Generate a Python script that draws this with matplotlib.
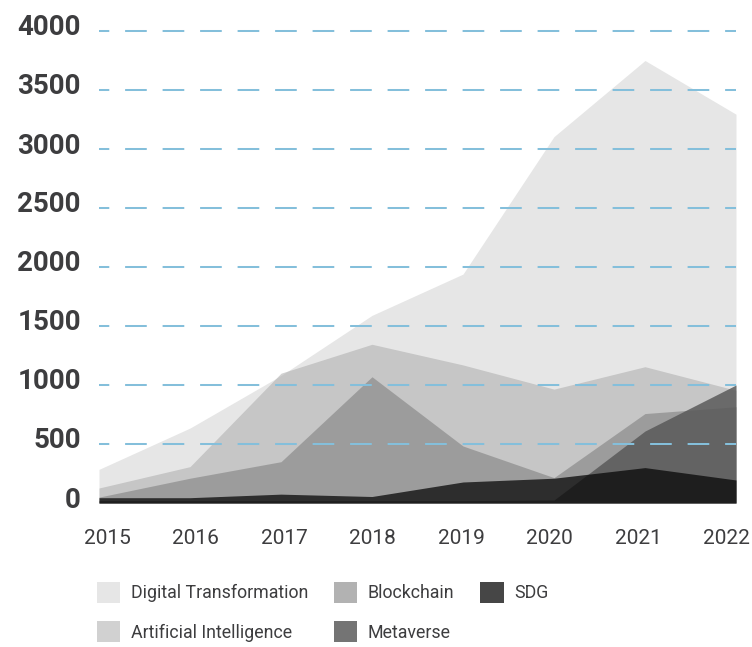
import matplotlib
matplotlib.use("Agg")
import matplotlib.pyplot as plt
from matplotlib.transforms import ScaledTranslation

# --- Data (publications per year) ---
years = [2015, 2016, 2017, 2018, 2019, 2020, 2021, 2022]

digital_transformation = [285, 635, 1080, 1590, 1940, 3105, 3750, 3295]
artificial_intelligence = [127, 308, 1100, 1345, 1170, 965, 1155, 955]
blockchain = [50, 210, 350, 1070, 483, 215, 758, 816]
metaverse = [20, 20, 20, 20, 20, 25, 610, 1000]
sdg = [45, 45, 75, 55, 178, 210, 300, 195]

series_names = ["Digital Transformation", "Artificial Intelligence",
                "Blockchain", "Metaverse", "SDG"]
series_values = [digital_transformation, artificial_intelligence,
                 blockchain, metaverse, sdg]

y_ticks = [0, 500, 1000, 1500, 2000, 2500, 3000, 3500, 4000]
grid_levels = y_ticks[1:]

# --- Style ---
COLORS = ["#e6e6e6", "#adadad", "#838383", "#585858", "#060606"]
ALPHAS = [1.0, 0.56, 0.62, 0.83, 0.74]
GRID_COLOR = "#84bfdb"
TEXT_COLOR = "#3d3d3f"

plt.rcParams["lines.scale_dashes"] = False

fig = plt.figure(figsize=(7.52, 6.47), dpi=100)
ax = fig.add_axes([99 / 752, 1 - 503 / 647, 637 / 752, 472 / 647])

for name, values, color, alpha in zip(series_names, series_values, COLORS, ALPHAS):
    ax.fill_between(years, 0, values, color=color, alpha=alpha,
                    linewidth=0, label=name, zorder=2)

# dashed blue guide lines sit on top of the areas
for level in grid_levels:
    ax.axhline(level, color=GRID_COLOR, linewidth=1.45,
               linestyle=(8.2, (15.6, 11.4)), zorder=3, clip_on=False)

ax.set_xlim(years[0], years[-1])
ax.set_ylim(0, 4000)

for side in ["top", "right", "left", "bottom"]:
    ax.spines[side].set_visible(False)

# y labels: bold, sitting slightly above their line
ax.set_yticks(y_ticks)
ax.set_yticklabels([str(v) for v in y_ticks], fontfamily="Roboto",
                   fontweight="bold", fontsize=20, color=TEXT_COLOR)
ax.tick_params(axis="y", length=0, pad=13)
for lbl in ax.get_yticklabels():
    lbl.set_transform(lbl.get_transform() + ScaledTranslation(0, 6 / 100, fig.dpi_scale_trans))

# x labels: evenly spread slightly inside the plot edges
ax.set_xticks(years)
ax.set_xticklabels([str(y) for y in years], fontfamily="Roboto",
                   fontsize=15, color=TEXT_COLOR)
ax.tick_params(axis="x", length=0, pad=19)
for i, lbl in enumerate(ax.get_xticklabels()):
    dx = (8 - 2.45 * i) / 100
    lbl.set_transform(lbl.get_transform() + ScaledTranslation(dx, 0, fig.dpi_scale_trans))

handles, labels = ax.get_legend_handles_labels()
fig.legend(handles, labels, ncol=3, loc="upper left",
           bbox_to_anchor=(97 / 752, 1 - 582 / 647), frameon=False,
           borderpad=0, borderaxespad=0, handlelength=1.3, handleheight=1.4,
           handletextpad=0.6, columnspacing=1.46, labelspacing=1.06,
           prop={"family": "Roboto", "size": 12.8},
           labelcolor=TEXT_COLOR)

plt.savefig("out.png", dpi=100)
plt.close()
